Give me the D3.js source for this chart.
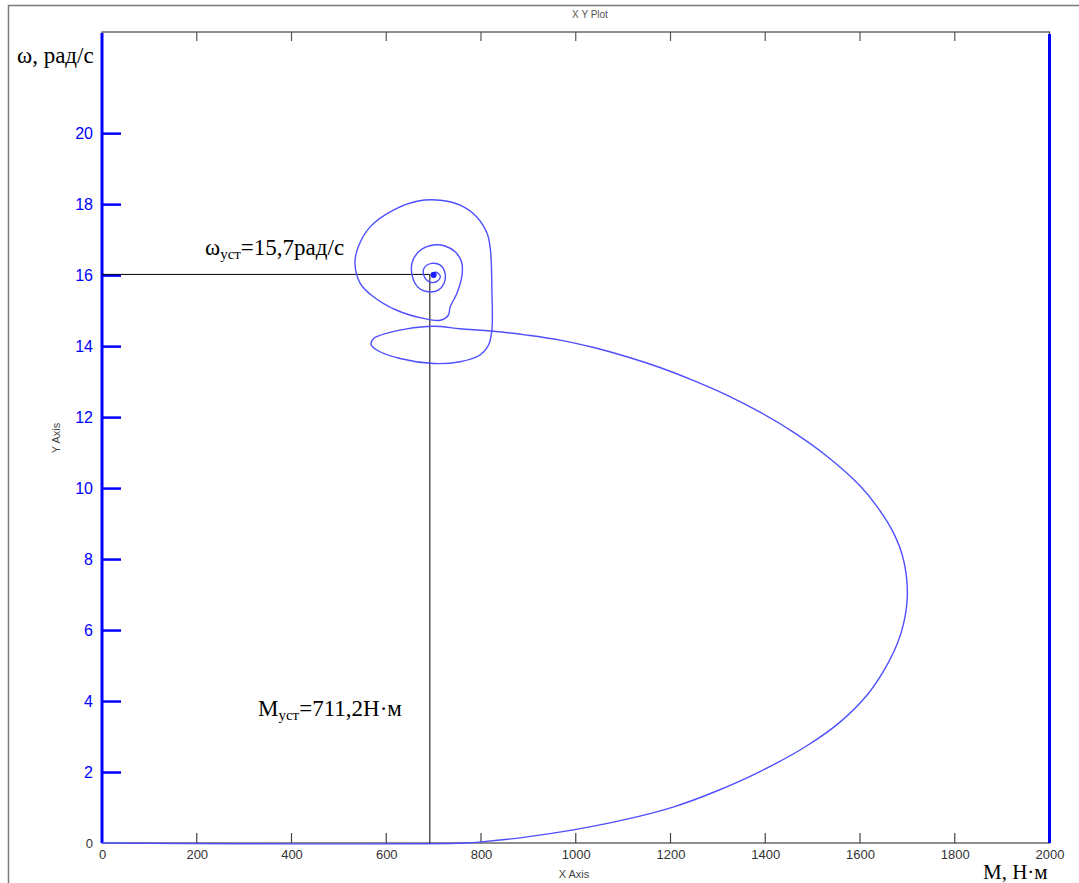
<!DOCTYPE html>
<html>
<head>
<meta charset="utf-8">
<script src="https://cdn.jsdelivr.net/npm/d3@7"></script>
<style>
  html, body { margin: 0; padding: 0; background: #fff; }
  svg { display: block; }
</style>
</head>
<body>
<svg id="chart" width="1079" height="883"></svg>
<script>
// ---- data ----
const xTicks = [0, 200, 400, 600, 800, 1000, 1200, 1400, 1600, 1800, 2000];
const yTicks = [0, 2, 4, 6, 8, 10, 12, 14, 16, 18, 20];
const xDomain = [0, 2000];
const yDomain = [0, 22.85];

// trajectory: torque M (N·m) and speed ω (rad/s)
const torqueM = [0, 767, 805, 890, 995, 1101, 1207, 1291, 1390, 1488, 1559, 1615, 1650, 1678, 1692, 1700,
  1692, 1671, 1636, 1601, 1531, 1460, 1390, 1319, 1249, 1179, 1108, 1038, 967, 897, 826, 756,
  700, 640, 600, 574, 568, 580, 629, 700, 756, 798, 816, 823, 823, 820, 813, 791, 756,
  714, 665, 615, 566, 541, 534, 545, 573, 622, 679, 714, 731, 735, 749, 760, 759, 746, 724, 700, 672,
  655, 655, 667, 689, 710, 722, 724, 714, 696, 680, 680, 693, 708, 714, 705, 695, 699, 702, 700];
const speedW = [0, 0, 0.04, 0.16, 0.37, 0.65, 1.02, 1.43, 2.02, 2.74, 3.42, 4.17, 4.85, 5.59, 6.18, 7.01,
  7.97, 8.73, 9.48, 10.05, 10.89, 11.57, 12.13, 12.62, 13.03, 13.39, 13.7, 13.96, 14.17, 14.31, 14.42, 14.49,
  14.56, 14.48, 14.36, 14.22, 14.05, 13.89, 13.65, 13.51, 13.56, 13.75, 14.03, 14.45, 15.58, 16.7, 17.17, 17.64, 17.97,
  18.11, 18.08, 17.83, 17.36, 16.8, 16.33, 15.77, 15.39, 15.01, 14.78, 14.73, 14.87, 15.11, 15.48, 16.0, 16.37, 16.65, 16.82, 16.85, 16.7,
  16.37, 15.97, 15.66, 15.53, 15.58, 15.77, 16.06, 16.28, 16.33, 16.2, 15.97, 15.8, 15.83, 15.97, 16.08, 16.03, 15.97, 15.99, 16.0];

// steady-state marker lines (as drawn) and their labels
const steadyM = 692;
const steadyW = 16.02;
const labelW = ["ω", "уст", "=15,7рад/с"];
const labelM = ["М", "уст", "=711,2Н·м"];

// ---- drawing ----
const svg = d3.select("#chart");
const pL = 102, pR = 1049.5, pT = 32, pB = 843;
const x = d3.scaleLinear().domain(xDomain).range([pL, pR]);
const y = d3.scaleLinear().domain(yDomain).range([pB, pT]);
const sans = "Liberation Sans, Arial, sans-serif";
const serif = "Liberation Serif, Times New Roman, serif";

// outer frame
svg.append("rect").attr("x", 8.5).attr("y", 5.5).attr("width", 1200).attr("height", 1000)
  .attr("fill", "none").attr("stroke", "#7a7a7a").attr("stroke-width", 1.5);

svg.append("text").attr("x", 590).attr("y", 18).attr("text-anchor", "middle")
  .attr("font-family", sans).attr("font-size", 10)
  .attr("fill", "#555").text("X Y Plot");

// plot border
svg.append("rect").attr("x", pL).attr("y", pT).attr("width", pR - pL).attr("height", pB - pT)
  .attr("fill", "none").attr("stroke", "#444").attr("stroke-width", 1.2);

// bottom x axis labels
const xAxisB = d3.axisBottom(x).tickValues(xTicks).tickSize(0).tickPadding(0).tickFormat(d3.format("d"));
const gxb = svg.append("g").attr("transform", `translate(0,${pB})`).call(xAxisB);
gxb.select(".domain").remove();
gxb.selectAll("text").attr("font-family", sans)
  .attr("font-size", 13).attr("fill", "#333").attr("y", 7).attr("dy", "0.71em");
// bottom ticks (inward)
svg.append("g").selectAll("line").data(xTicks.slice(1, -1)).join("line")
  .attr("x1", d => x(d)).attr("x2", d => x(d)).attr("y1", pB).attr("y2", pB - 10)
  .attr("stroke", "#444").attr("stroke-width", 1.2);
// top ticks
svg.append("g").selectAll("line").data(xTicks.slice(1, -1)).join("line")
  .attr("x1", d => x(d)).attr("x2", d => x(d)).attr("y1", pT).attr("y2", pT + 9)
  .attr("stroke", "#555").attr("stroke-width", 1.2);

// left y axis (blue)
const yAxis = d3.axisRight(y).tickValues(yTicks.slice(1)).tickSize(19).tickFormat("");
const gy = svg.append("g").attr("transform", `translate(${pL},0)`).call(yAxis);
gy.select(".domain").remove();
gy.selectAll("line").attr("stroke", "#0000ff").attr("stroke-width", 2.5);
svg.append("line").attr("x1", pL).attr("x2", pL).attr("y1", pT + 1).attr("y2", pB)
  .attr("stroke", "#0000ff").attr("stroke-width", 3);
svg.append("g").selectAll("text").data(yTicks).join("text")
  .attr("x", pL - 9).attr("y", d => y(d)).attr("dy", "0.36em").attr("text-anchor", "end")
  .attr("font-family", sans)
  .attr("font-size", d => d === 0 ? 13 : 16)
  .attr("fill", d => d === 0 ? "#333" : "#0000ff")
  .text(d => d);

// right blue edge
svg.append("line").attr("x1", x(xDomain[1])).attr("x2", x(xDomain[1])).attr("y1", pT + 2).attr("y2", pB)
  .attr("stroke", "#0000ff").attr("stroke-width", 3);

// axis name labels (small, grey)
svg.append("text").attr("transform", "translate(60,438) rotate(-90)").attr("text-anchor", "middle")
  .attr("font-family", sans).attr("font-size", 11)
  .attr("fill", "#444").text("Y Axis");
svg.append("text").attr("x", 574).attr("y", 878).attr("text-anchor", "middle")
  .attr("font-family", sans).attr("font-size", 11)
  .attr("fill", "#444").text("X Axis");

// steady-state lines
svg.append("line").attr("x1", pL).attr("x2", x(steadyM)).attr("y1", y(steadyW)).attr("y2", y(steadyW))
  .attr("stroke", "#000").attr("stroke-width", 1);
svg.append("line").attr("x1", x(steadyM)).attr("x2", x(steadyM)).attr("y1", y(steadyW)).attr("y2", pB)
  .attr("stroke", "#000").attr("stroke-width", 1);

// trajectory
const pts = torqueM.map((m, i) => [m, speedW[i]]);
const line = d3.line().x(d => x(d[0])).y(d => y(d[1])).curve(d3.curveCatmullRom.alpha(0.5));
svg.append("path").datum(pts).attr("d", line).attr("fill", "none")
  .attr("stroke", "#4f4fff").attr("stroke-width", 1.4);
const last = pts[pts.length - 1];
svg.append("circle").attr("cx", x(last[0])).attr("cy", y(last[1])).attr("r", 3)
  .attr("fill", "#1a1aff");

// serif annotations
svg.append("text").attr("x", 17).attr("y", 63).attr("font-family", serif).attr("font-size", 23)
  .attr("fill", "#000").text("ω, рад/с");
svg.append("text").attr("x", 983).attr("y", 879).attr("font-family", serif).attr("font-size", 21)
  .attr("fill", "#000").text("М, Н·м");

function subLabel(xp, yp, parts) {
  const t = svg.append("text").attr("x", xp).attr("y", yp).attr("font-family", serif)
    .attr("font-size", 23).attr("fill", "#000");
  t.append("tspan").text(parts[0]);
  t.append("tspan").attr("font-size", 15).attr("dy", 4).text(parts[1]);
  t.append("tspan").attr("dy", -4).text(parts[2]);
}
subLabel(205, 255, labelW);
subLabel(258, 716, labelM);
</script>
</body>
</html>
